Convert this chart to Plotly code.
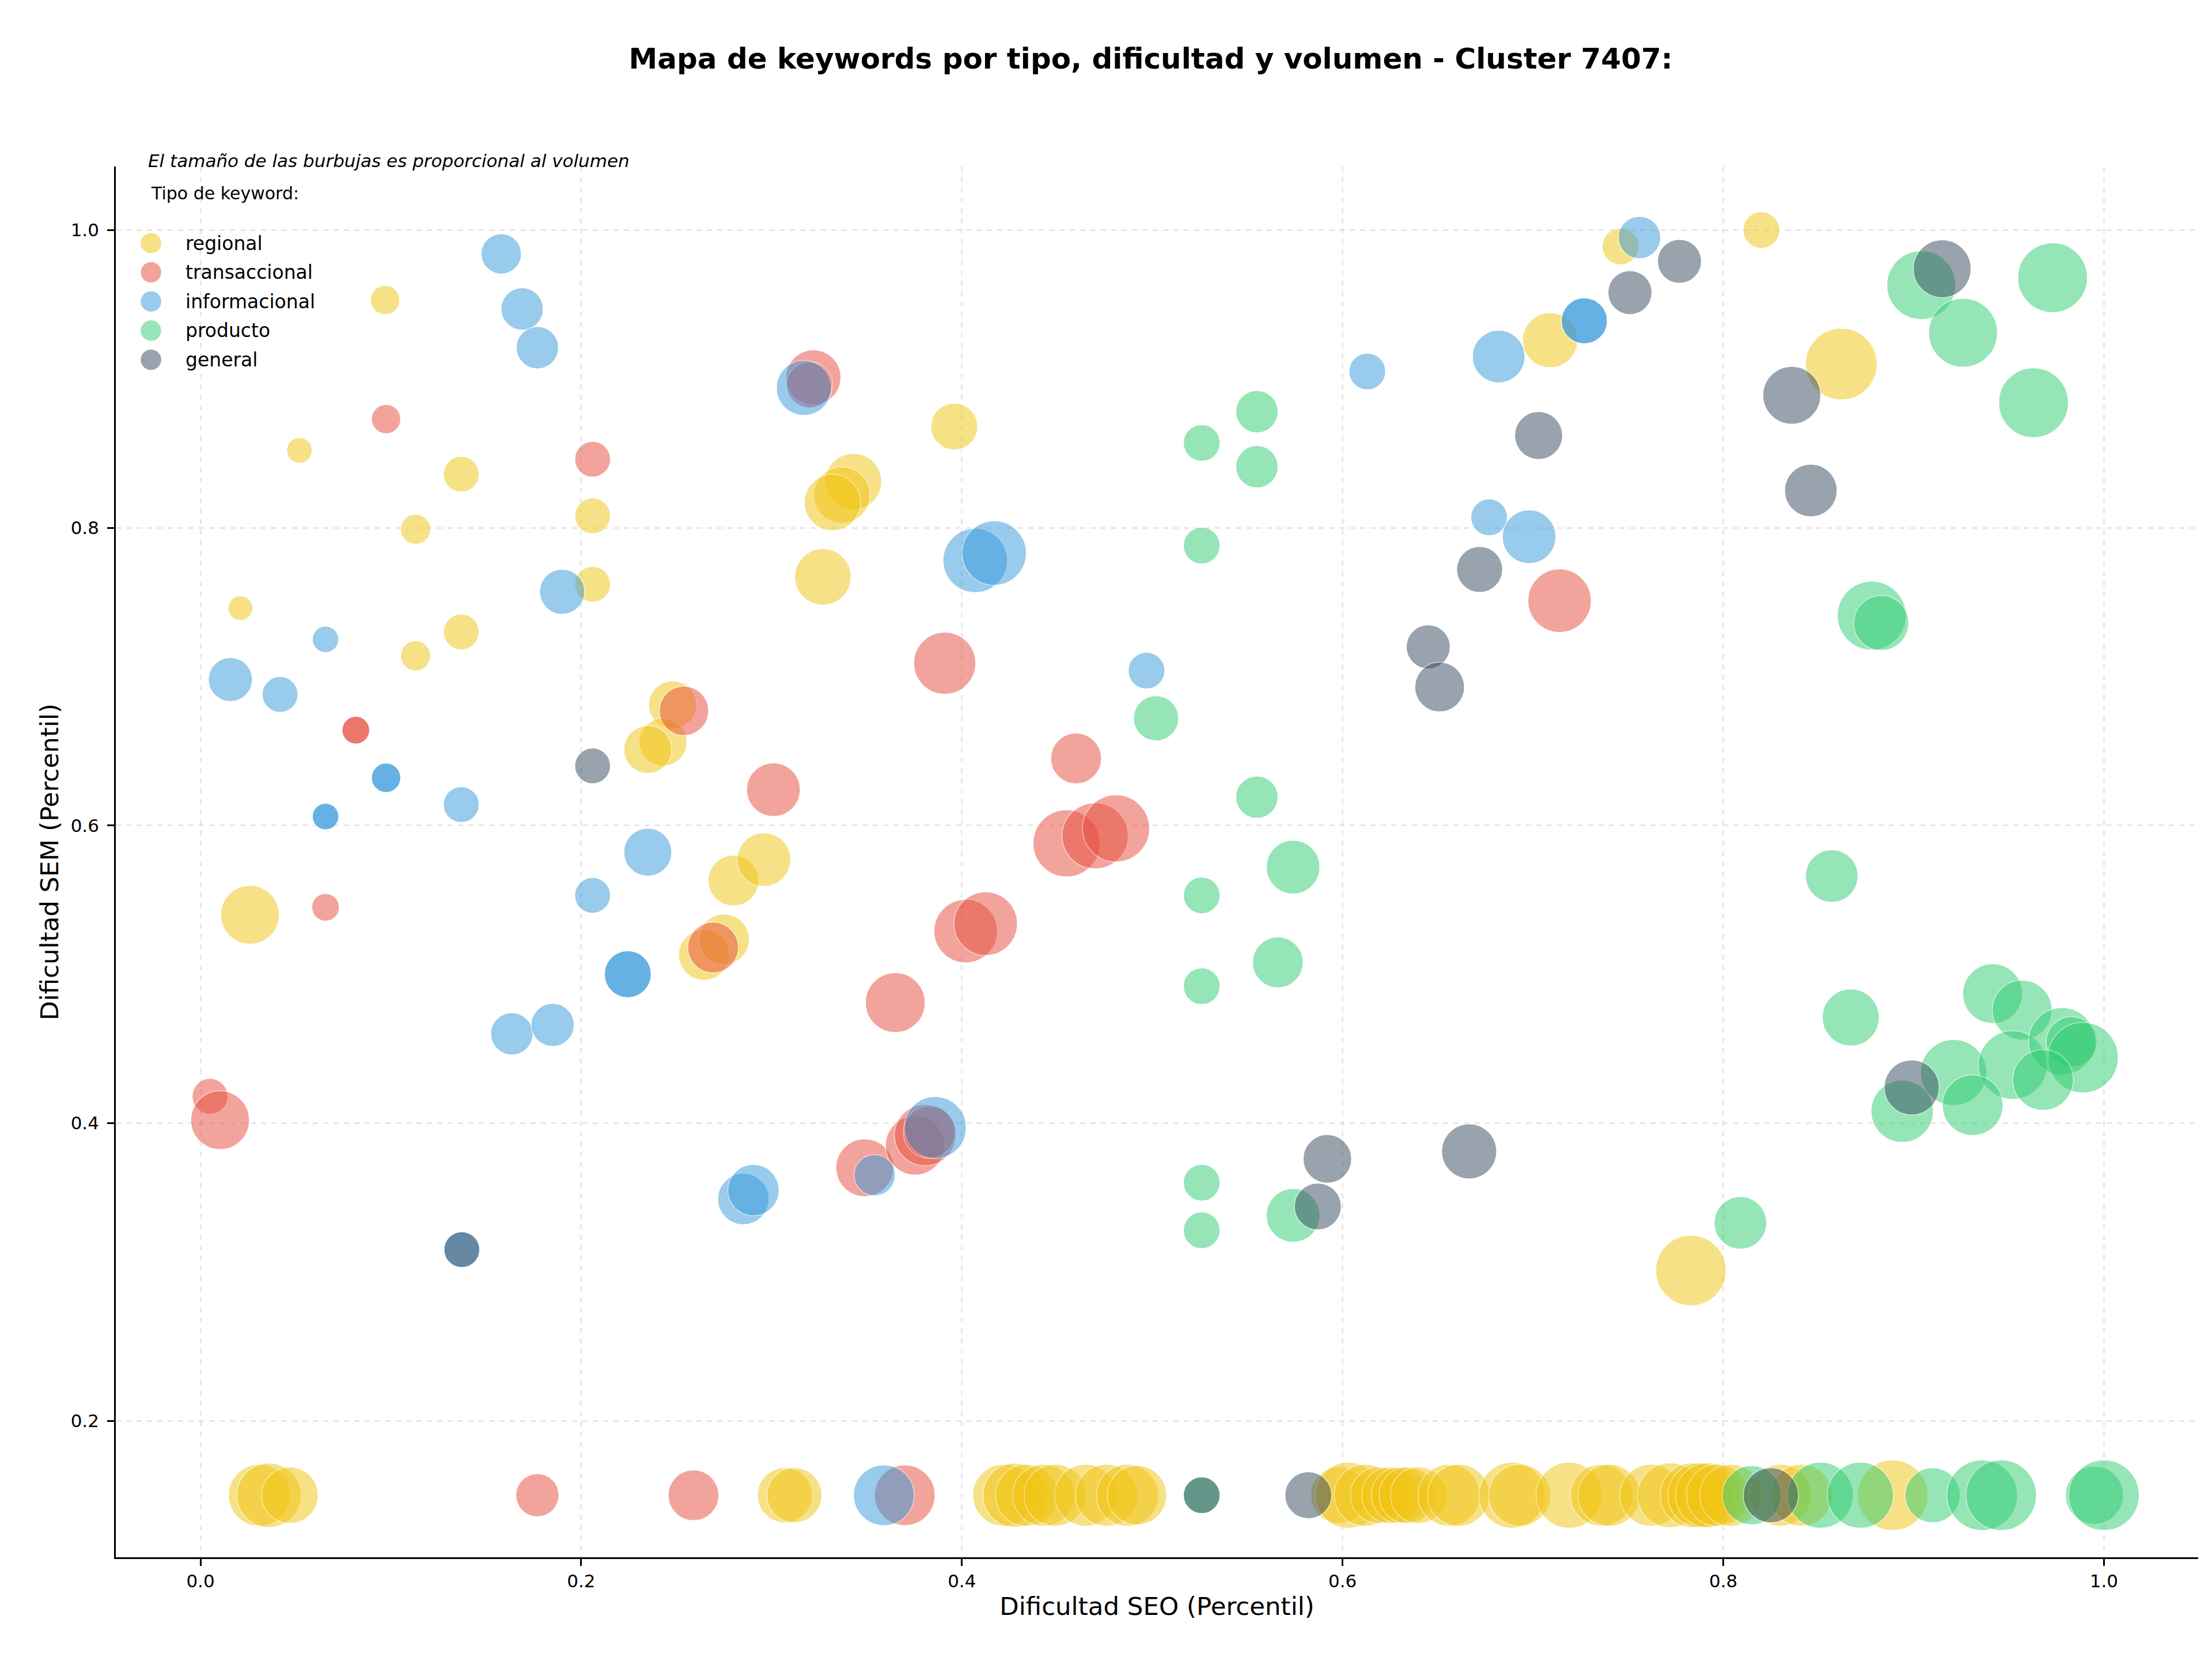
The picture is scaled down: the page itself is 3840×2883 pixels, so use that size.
import plotly.graph_objects as go

# =====================================================
# DATA
# =====================================================

categorias = ["regional", "transaccional", "informacional", "producto", "general"]

colores = {
    "regional": "#F1C40F",
    "transaccional": "#E74C3C",
    "informacional": "#3498DB",
    "producto": "#2ECC71",
    "general": "#34495E",
}

# regional
reg_seo = [0.097, 0.052, 0.137, 0.113, 0.206, 0.206, 0.021, 0.137, 0.113, 0.026,
           0.248, 0.243, 0.235, 0.2645, 0.275, 0.280, 0.296, 0.327, 0.343, 0.337,
           0.332, 0.396, 0.709, 0.746, 0.820, 0.862, 0.783,
           0.031, 0.036, 0.047, 0.307, 0.312, 0.422, 0.428, 0.434, 0.443, 0.449,
           0.465, 0.476, 0.487, 0.492, 0.598, 0.603, 0.612, 0.619, 0.625, 0.630,
           0.634, 0.640, 0.656, 0.661, 0.689, 0.693, 0.719, 0.736, 0.740, 0.762,
           0.772, 0.784, 0.788, 0.792, 0.797, 0.804, 0.830, 0.841, 0.889]
reg_sem = [0.953, 0.852, 0.836, 0.799, 0.808, 0.762, 0.746, 0.730, 0.714, 0.540,
           0.681, 0.656, 0.651, 0.513, 0.5235, 0.563, 0.577, 0.767, 0.831, 0.822,
           0.817, 0.868, 0.926, 0.989, 1.000, 0.910, 0.301,
           0.15, 0.15, 0.15, 0.15, 0.15, 0.15, 0.15, 0.15, 0.15, 0.15,
           0.15, 0.15, 0.15, 0.15, 0.15, 0.15, 0.15, 0.15, 0.15, 0.15,
           0.15, 0.15, 0.15, 0.15, 0.15, 0.15, 0.15, 0.15, 0.15, 0.15,
           0.15, 0.15, 0.15, 0.15, 0.15, 0.15, 0.15, 0.15, 0.15]
reg_vol = [108, 83, 161, 114, 161, 161, 77, 161, 114, 433,
           289, 289, 289, 324, 324, 324, 361, 400, 400, 400,
           400, 276, 380, 169, 169, 645, 625,
           484, 520, 400, 380, 380, 484, 520, 484, 484, 484,
           484, 484, 484, 441, 400, 548, 484, 400, 400, 400,
           400, 400, 484, 484, 548, 484, 548, 484, 484, 484,
           529, 529, 529, 529, 484, 484, 484, 484, 625]

# transaccional
tra_seo = [0.0975, 0.206, 0.0816, 0.0816, 0.0657, 0.005, 0.0103, 0.322, 0.320, 0.254,
           0.2693, 0.301, 0.391, 0.460, 0.455, 0.470, 0.481, 0.365, 0.402, 0.4125,
           0.349, 0.3754, 0.3807, 0.383, 0.714, 0.177, 0.259, 0.370]
tra_sem = [0.873, 0.846, 0.664, 0.664, 0.545, 0.418, 0.402, 0.901, 0.896, 0.677,
           0.518, 0.624, 0.709, 0.645, 0.588, 0.593, 0.598, 0.481, 0.529, 0.534,
           0.370, 0.385, 0.392, 0.394, 0.751, 0.15, 0.15, 0.15]
tra_vol = [108, 161, 96, 96, 96, 161, 433, 380, 266, 306,
           324, 361, 484, 324, 566, 548, 566, 449, 506, 506,
           420, 441, 475, 342, 506, 234, 324, 462]

# informacional
inf_seo = [0.158, 0.169, 0.177, 0.317, 0.190, 0.0657, 0.0157, 0.0418, 0.0975, 0.0975,
           0.0657, 0.0657, 0.137, 0.206, 0.235, 0.2245, 0.2245, 0.1636, 0.185, 0.1373,
           0.2852, 0.2905, 0.3542, 0.386, 0.407, 0.417, 0.497, 0.613, 0.677, 0.682,
           0.698, 0.727, 0.727, 0.756, 0.359]
inf_sem = [0.984, 0.947, 0.921, 0.894, 0.757, 0.725, 0.698, 0.688, 0.632, 0.632,
           0.606, 0.606, 0.614, 0.553, 0.582, 0.500, 0.500, 0.460, 0.466, 0.315,
           0.349, 0.355, 0.365, 0.397, 0.778, 0.783, 0.704, 0.905, 0.807, 0.915,
           0.794, 0.939, 0.939, 0.995, 0.15]
inf_vol = [204, 225, 225, 380, 256, 88, 243, 161, 108, 108,
           88, 88, 161, 161, 289, 276, 276, 225, 234, 161,
           331, 331, 213, 484, 520, 520, 169, 169, 169, 346,
           361, 266, 266, 225, 462]

# producto
pro_seo = [0.555, 0.526, 0.555, 0.526, 0.502, 0.555, 0.574, 0.526, 0.566, 0.526,
           0.526, 0.526, 0.574, 0.809, 0.857, 0.867, 0.878, 0.883, 0.904, 0.926,
           0.973, 0.963, 0.9415, 0.957, 0.921, 0.952, 0.978, 0.983, 0.989, 0.968,
           0.894, 0.931,
           0.526, 0.815, 0.851, 0.872, 0.910, 0.936, 0.946, 0.995, 1.000]
pro_sem = [0.878, 0.857, 0.841, 0.788, 0.672, 0.619, 0.572, 0.553, 0.508, 0.492,
           0.360, 0.328, 0.338, 0.333, 0.566, 0.471, 0.741, 0.736, 0.963, 0.931,
           0.968, 0.884, 0.487, 0.476, 0.434, 0.439, 0.455, 0.4545, 0.444, 0.429,
           0.408, 0.412,
           0.15, 0.15, 0.15, 0.15, 0.15, 0.15, 0.15, 0.15, 0.15]
pro_vol = [225, 169, 225, 169, 256, 225, 361, 169, 324, 169,
           169, 169, 361, 346, 346, 408, 595, 380, 595, 595,
           610, 610, 449, 449, 548, 595, 566, 324, 625, 462,
           488, 462,
           169, 441, 548, 548, 380, 625, 625, 420, 625]

# general
gen_seo = [0.206, 0.1373, 0.587, 0.592, 0.6665, 0.645, 0.651, 0.672,
           0.703, 0.751, 0.777, 0.836, 0.846, 0.915, 0.899,
           0.526, 0.582, 0.825]
gen_sem = [0.640, 0.315, 0.344, 0.376, 0.381, 0.720, 0.693, 0.772,
           0.862, 0.958, 0.979, 0.889, 0.825, 0.974, 0.424,
           0.15, 0.15, 0.15]
gen_vol = [161, 161, 276, 296, 380, 243, 310, 266,
           289, 243, 243, 420, 346, 420, 380,
           169, 276, 380]

series = {
    "regional": (reg_seo, reg_sem, reg_vol),
    "transaccional": (tra_seo, tra_sem, tra_vol),
    "informacional": (inf_seo, inf_sem, inf_vol),
    "producto": (pro_seo, pro_sem, pro_vol),
    "general": (gen_seo, gen_sem, gen_vol),
}

x_ticks = [0.0, 0.2, 0.4, 0.6, 0.8, 1.0]
y_ticks = [0.2, 0.4, 0.6, 0.8, 1.0]

FONT = "DejaVu Sans"

# =====================================================
# FIGURE
# =====================================================

fig = go.Figure()

for cat in categorias:
    seo, sem, vol = series[cat]
    fig.add_trace(
        go.Scatter(
            x=seo,
            y=sem,
            mode="markers",
            name=cat,
            showlegend=False,
            marker=dict(
                size=vol,
                sizemode="area",
                sizeref=2 / (4.898 ** 2),
                color=colores[cat],
                opacity=0.5,
                line=dict(color="white", width=1.5),
            ),
        )
    )

# =====================================================
# LEGEND (drawn by hand so the symbols match matplotlib's)
# =====================================================

leg_x_sym = 0.0169
leg_x_txt = 0.0330
leg_y0 = 0.9449
leg_step = 0.02096

fig.add_annotation(
    text="Tipo de keyword:",
    xref="paper", yref="paper",
    x=0.0162, y=0.9809,
    xanchor="left", yanchor="middle",
    showarrow=False,
    font=dict(family=FONT, size=30, color="black"),
)

for i, cat in enumerate(categorias):
    yy = leg_y0 - i * leg_step
    fig.add_shape(
        type="circle",
        xref="paper", yref="paper",
        xsizemode="pixel", ysizemode="pixel",
        xanchor=leg_x_sym, yanchor=yy,
        x0=-18.5, x1=18.5, y0=-18.5, y1=18.5,
        fillcolor=colores[cat],
        opacity=0.5,
        line=dict(color="white", width=1.5),
    )
    fig.add_annotation(
        text=cat,
        xref="paper", yref="paper",
        x=leg_x_txt, y=yy,
        xanchor="left", yanchor="middle",
        showarrow=False,
        font=dict(family=FONT, size=33, color="black"),
    )

fig.add_annotation(
    text="<i>El tamaño de las burbujas es proporcional al volumen</i>",
    xref="paper", yref="paper",
    x=0.0149, y=1.004,
    xanchor="left", yanchor="middle",
    showarrow=False,
    font=dict(family=FONT, size=31, color="black"),
)

fig.update_layout(
    width=3840,
    height=2883,
    paper_bgcolor="white",
    plot_bgcolor="white",
    margin=dict(l=193, r=32, t=281, b=188),
    title=dict(
        text="<b>Mapa de keywords por tipo, dificultad y volumen - Cluster 7407:</b>",
        x=0.497, xref="paper",
        y=1 - 93 / 2883, yref="container",
        xanchor="center", yanchor="middle",
        font=dict(family=FONT, size=50, color="black"),
    ),
    font=dict(family=FONT, color="black"),
    showlegend=False,
)

fig.update_xaxes(
    range=[-0.0445, 1.0495],
    tickvals=x_ticks,
    tickformat=".1f",
    showline=True, linecolor="black", linewidth=2.7,
    ticks="outside", ticklen=12, tickwidth=2.7, tickcolor="black",
    tickfont=dict(family=FONT, size=31, color="black"),
    showgrid=True, gridcolor="rgba(176,176,176,0.3)", gridwidth=2.5, griddash="dash",
    zeroline=False,
    title=dict(text="Dificultad SEO (Percentil)", standoff=12,
               font=dict(family=FONT, size=43.5, color="black")),
)

fig.update_yaxes(
    range=[0.1083, 1.0427],
    tickvals=y_ticks,
    tickformat=".1f",
    showline=True, linecolor="black", linewidth=2.7,
    ticks="outside", ticklen=12, tickwidth=2.7, tickcolor="black",
    ticklabelstandoff=8,
    tickfont=dict(family=FONT, size=31, color="black"),
    showgrid=True, gridcolor="rgba(176,176,176,0.3)", gridwidth=2.5, griddash="dash",
    zeroline=False,
    title=dict(text="Dificultad SEM (Percentil)", standoff=8,
               font=dict(family=FONT, size=43.5, color="black")),
)

fig.write_html("out.html")
